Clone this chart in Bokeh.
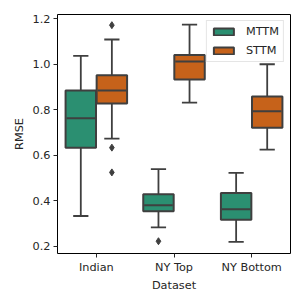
from bokeh.plotting import figure
from bokeh.models import ColumnDataSource, Legend, LegendItem, FixedTicker
from bokeh.embed import file_html
from bokeh.resources import INLINE

categories = ["Indian", "NY Top", "NY Bottom"]
series = ["MTTM", "STTM"]
colors = ["#2b8f71", "#c6621a"]
y_ticks = [0.2, 0.4, 0.6, 0.8, 1.0, 1.2]

mttm_whislo = [0.332, 0.282, 0.218]
mttm_q1 = [0.632, 0.353, 0.316]
mttm_med = [0.762, 0.379, 0.362]
mttm_q3 = [0.884, 0.428, 0.433]
mttm_whishi = [1.037, 0.538, 0.522]
mttm_outliers = [[], [0.221], []]

sttm_whislo = [0.673, 0.831, 0.624]
sttm_q1 = [0.827, 0.933, 0.720]
sttm_med = [0.884, 1.012, 0.793]
sttm_q3 = [0.952, 1.041, 0.858]
sttm_whishi = [1.109, 1.174, 1.000]
sttm_outliers = [[1.172, 0.633, 0.524], [], []]

stats = {
    "MTTM": (mttm_whislo, mttm_q1, mttm_med, mttm_q3, mttm_whishi, mttm_outliers),
    "STTM": (sttm_whislo, sttm_q1, sttm_med, sttm_q3, sttm_whishi, sttm_outliers),
}

EDGE = "#3f3f3f"
FONT = "DejaVu Sans"
FS = "11.3px"
TXT = "#262626"

p = figure(width=300, height=300, x_range=(-0.5, 2.5), y_range=(0.167, 1.219),
           output_backend="svg", toolbar_location=None,
           min_border_left=57, min_border_right=10, min_border_top=14, min_border_bottom=47)
p.xgrid.visible = False
p.ygrid.visible = False
p.outline_line_color = "black"
p.outline_line_width = 1
p.outline_line_alpha = 1

offsets = [-0.2, 0.2]
box_w = 0.392
cap_w = 0.196
renderers = []
for si, name in enumerate(series):
    wlo, q1, med, q3, whi, outs = stats[name]
    xs = [i + offsets[si] for i in range(len(categories))]
    src = ColumnDataSource(dict(x=xs, left=[x - box_w / 2 for x in xs], right=[x + box_w / 2 for x in xs],
                                cl=[x - cap_w / 2 for x in xs], cr=[x + cap_w / 2 for x in xs],
                                ml=[x - box_w / 2 + 0.012 for x in xs], mr=[x + box_w / 2 - 0.012 for x in xs],
                                wlo=wlo, q1=q1, med=med, q3=q3, whi=whi))
    p.segment(x0="x", y0="wlo", x1="x", y1="q1", source=src, line_color=EDGE, line_width=1.8)
    p.segment(x0="x", y0="q3", x1="x", y1="whi", source=src, line_color=EDGE, line_width=1.8)
    p.segment(x0="cl", y0="wlo", x1="cr", y1="wlo", source=src, line_color=EDGE, line_width=1.8)
    p.segment(x0="cl", y0="whi", x1="cr", y1="whi", source=src, line_color=EDGE, line_width=1.8)
    r = p.quad(left="left", right="right", bottom="q1", top="q3", source=src,
               fill_color=colors[si], line_color=EDGE, line_width=2)
    renderers.append(r)
    p.segment(x0="ml", y0="med", x1="mr", y1="med", source=src, line_color=EDGE, line_width=2)
    ox, oy = [], []
    for i, lst in enumerate(outs):
        for v in lst:
            ox.append(xs[i])
            oy.append(v)
    if ox:
        p.scatter(x=ox, y=oy, marker="diamond", size=7, fill_color=EDGE, line_color=EDGE)

p.xaxis.ticker = FixedTicker(ticks=[0, 1, 2])
p.xaxis.major_label_overrides = {i: c for i, c in enumerate(categories)}
p.yaxis.ticker = FixedTicker(ticks=y_ticks)
p.yaxis.major_label_overrides = {t: f"{t:.1f}" for t in y_ticks}
for ax in (p.xaxis, p.yaxis):
    ax.minor_tick_line_color = None
    ax.major_tick_in = 0
    ax.major_tick_out = 4
    ax.major_tick_line_color = TXT
    ax.axis_line_color = None
    ax.major_label_text_font = FONT
    ax.major_label_text_font_size = FS
    ax.major_label_text_color = TXT
    ax.major_label_standoff = 3
    ax.axis_label_text_font = FONT
    ax.axis_label_text_font_size = FS
    ax.axis_label_text_font_style = "normal"
    ax.axis_label_text_color = TXT
p.xaxis.axis_label_standoff = 2
p.yaxis.axis_label_standoff = 4
p.xaxis.axis_label = "Dataset"
p.yaxis.axis_label = "RMSE"

legend = Legend(items=[LegendItem(label=n, renderers=[r]) for n, r in zip(series, renderers)],
                location="top_right")
legend.margin = 6
legend.padding = 4
legend.spacing = 6
legend.glyph_width = 25
legend.glyph_height = 9
legend.label_height = 13
legend.label_standoff = 10
legend.label_text_font = FONT
legend.label_text_font_size = FS
legend.label_text_color = TXT
legend.border_line_color = "#cccccc"
legend.border_line_width = 1
legend.background_fill_alpha = 0.8
p.add_layout(legend)

open("out.html", "w").write(file_html(p, INLINE))
